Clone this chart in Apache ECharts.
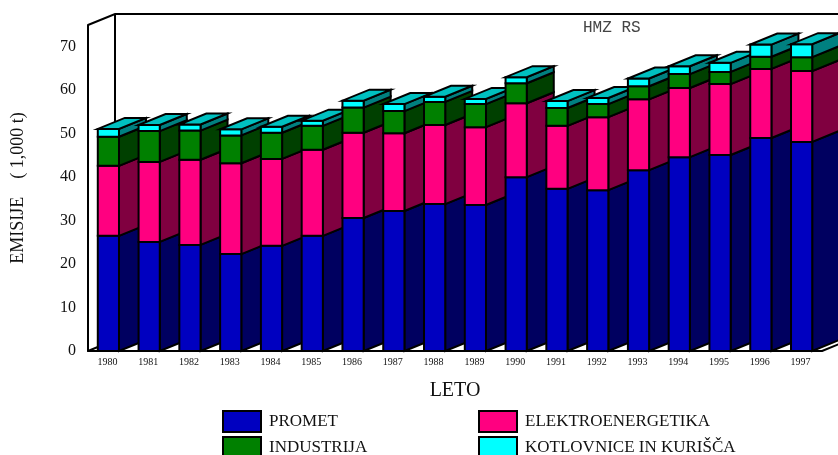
<!DOCTYPE html>
<html>
<head>
<meta charset="utf-8">
<style>
  html, body { margin: 0; padding: 0; background: #fff; }
  #chart { width: 838px; height: 455px; }
</style>
<script src="https://cdn.jsdelivr.net/npm/echarts@6/dist/echarts.min.js"></script>
</head>
<body>
<div id="chart"></div>
<script>
const years = ['1980', '1981', '1982', '1983', '1984', '1985', '1986', '1987', '1988',
  '1989', '1990', '1991', '1992', '1993', '1994', '1995', '1996', '1997'];

const promet = [26.5, 25.1, 24.4, 22.3, 24.2, 26.5, 30.6, 32.2, 33.8, 33.6, 40.0, 37.3, 37.0, 41.6, 44.6, 45.1, 49.0, 48.1];
const elektro = [16.1, 18.4, 19.6, 20.9, 20.0, 19.8, 19.6, 17.9, 18.2, 17.9, 17.0, 14.5, 16.8, 16.3, 15.9, 16.3, 15.9, 16.3];
const industrija = [6.7, 7.1, 6.7, 6.4, 6.0, 5.5, 5.8, 5.1, 5.3, 5.3, 4.6, 4.1, 3.0, 3.0, 3.2, 2.8, 2.8, 3.2];
const kotlovnice = [1.8, 1.4, 1.4, 1.4, 1.4, 1.2, 1.6, 1.6, 1.2, 1.2, 1.4, 1.6, 1.4, 1.8, 1.8, 2.1, 2.8, 3.0];

const layers = [
  { name: 'PROMET', values: promet, front: '#0000c0', side: '#000060' },
  { name: 'ELEKTROENERGETIKA', values: elektro, front: '#ff0080', side: '#800040' },
  { name: 'INDUSTRIJA', values: industrija, front: '#008000', side: '#004000' },
  { name: 'KOTLOVNICE IN KURIŠČA', values: kotlovnice, front: '#00ffff', side: '#008080' },
];
const capColor = '#00c0c0';

// the fake 3D depth, same for the bars and the walls
const DX = 27;
const DY = 11;
const LINE = 2;
const FONT = '"Liberation Serif", "Times New Roman", serif';

// one row per block, left to right so that each bar paints over its neighbour's side
const blocks = [];
years.forEach((year, i) => {
  let base = 0;
  layers.forEach((layer, l) => {
    blocks.push([i, base, base + layer.values[i], l]);
    base += layer.values[i];
  });
});

const lineStyle = { fill: 'none', stroke: '#000', lineWidth: LINE };

function renderWalls(params, api) {
  const { x, y, width: w, height: h } = params.coordSys;
  const polyline = (points) => ({ type: 'polyline', shape: { points }, style: lineStyle });
  return {
    type: 'group',
    children: [
      polyline([[x, y + h], [x + DX, y + h - DY], [x + DX, y - DY]]),
      polyline([[x, y], [x + DX, y - DY], [x + w + DX, y - DY]]),
      polyline([[x + w, y + h], [x + w + DX, y + h - DY]]),
    ],
  };
}

function renderBlock(params, api) {
  const i = api.value(0);
  const layerIndex = api.value(3);
  const layer = layers[layerIndex];
  const low = api.coord([i, api.value(1)]);
  const high = api.coord([i, api.value(2)]);
  const half = api.size([1, 0])[0] * 0.26;
  const left = low[0] - half;
  const right = low[0] + half;
  const face = (points, fill) => ({
    type: 'polygon',
    shape: { points },
    style: { fill, stroke: '#000', lineWidth: LINE, lineJoin: 'miter' },
  });
  const children = [
    face([[right, low[1]], [right + DX, low[1] - DY], [right + DX, high[1] - DY], [right, high[1]]], layer.side),
    face([[left, low[1]], [right, low[1]], [right, high[1]], [left, high[1]]], layer.front),
  ];
  if (layerIndex === layers.length - 1) {
    children.push(face([[left, high[1]], [right, high[1]], [right + DX, high[1] - DY], [left + DX, high[1] - DY]], capColor));
  }
  return { type: 'group', children };
}

const legendBase = {
  orient: 'vertical',
  top: 410,
  height: 60,
  padding: 0,
  icon: 'rect',
  itemWidth: 38,
  itemHeight: 21,
  itemGap: 3,
  selectedMode: false,
  itemStyle: { borderColor: '#000', borderWidth: 2 },
  textStyle: { fontFamily: FONT, fontSize: 17, color: '#111', padding: [0, 0, 0, 3] },
};

const chart = echarts.init(document.getElementById('chart'));
chart.setOption({
  animation: false,
  backgroundColor: '#fff',
  title: {
    text: 'HMZ RS',
    left: 583,
    top: 20,
    padding: 0,
    textStyle: { fontFamily: '"Liberation Mono", monospace', fontSize: 16, fontWeight: 'normal', color: '#444' },
  },
  grid: { left: 88, right: 16, top: 25, bottom: 104, outerBoundsMode: 'none' },
  legend: [
    Object.assign({}, legendBase, { left: 222, data: ['PROMET', 'INDUSTRIJA'] }),
    Object.assign({}, legendBase, { left: 478, data: ['ELEKTROENERGETIKA', 'KOTLOVNICE IN KURIŠČA'] }),
  ],
  xAxis: {
    type: 'category',
    data: years,
    name: 'LETO',
    nameLocation: 'middle',
    nameGap: 30,
    nameTextStyle: { fontFamily: FONT, fontSize: 20, color: '#111' },
    axisLine: { lineStyle: { color: '#000', width: 2 } },
    axisTick: { show: false },
    axisLabel: { interval: 0, fontFamily: FONT, fontSize: 10, color: '#111', margin: 6, padding: [0, 2, 0, 0] },
  },
  yAxis: {
    type: 'value',
    min: 0,
    max: 75,
    interval: 10,
    name: 'EMISIJE    ( 1,000 t)',
    nameLocation: 'middle',
    nameGap: 61,
    nameTextStyle: { fontFamily: FONT, fontSize: 18, color: '#111' },
    axisLine: { show: true, lineStyle: { color: '#000', width: 2 } },
    axisTick: { show: false },
    splitLine: { show: false },
    axisLabel: { showMaxLabel: false, fontFamily: FONT, fontSize: 16, color: '#111', margin: 12, padding: [2, 0, 0, 0] },
  },
  series: [
    { type: 'custom', silent: true, renderItem: renderWalls, data: [[0, 0]], encode: { x: 0, y: 1 } },
    {
      type: 'custom',
      silent: true,
      renderItem: renderBlock,
      data: blocks,
      encode: { x: 0, y: [1, 2] },
    },
    // empty series, they only feed the legends
    ...layers.map((layer) => ({
      type: 'bar',
      name: layer.name,
      data: [],
      itemStyle: { color: layer.front },
    })),
  ],
});
</script>
</body>
</html>
